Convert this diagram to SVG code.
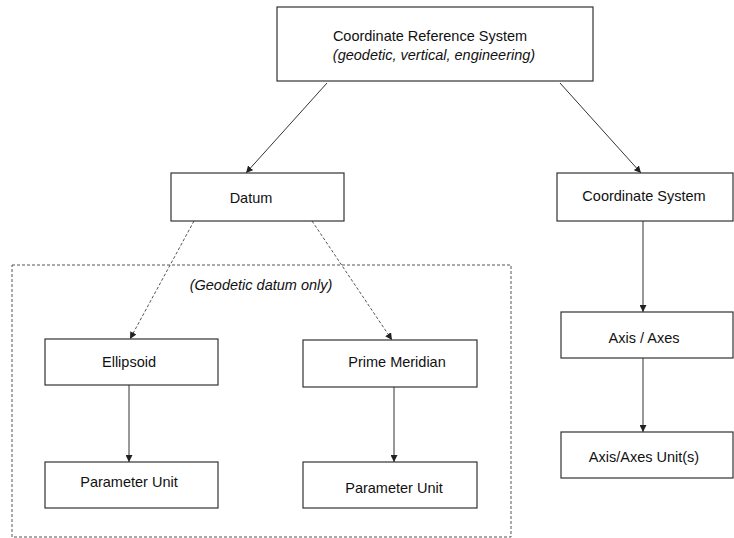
<svg xmlns="http://www.w3.org/2000/svg" width="734" height="538" viewBox="0 0 734 538">
<defs>
<marker id="ah" viewBox="0 0 10 10" refX="10" refY="5" markerWidth="7" markerHeight="7" markerUnits="userSpaceOnUse" orient="auto">
<path d="M0,0 L10,5 L0,10 Z" fill="#222"/>
</marker>
</defs>
<style>
.box{fill:#fff;stroke:#333;stroke-width:1.2}
.t{font-family:"Liberation Sans",Arial,sans-serif;font-size:14.5px;fill:#111;text-anchor:middle}
.i{font-style:italic}
.c{stroke:#333;stroke-width:1;fill:none}
.d{stroke:#555;stroke-width:1;fill:none;stroke-dasharray:3,2}
</style>
<rect width="734" height="538" fill="#fff"/>
<rect id="geodetic-group" x="12" y="265" width="499" height="272" class="d"/>
<text class="t i" x="261" y="290">(Geodetic datum only)</text>
<g id="connectors">
<line class="c" x1="327" y1="83" x2="246" y2="173" marker-end="url(#ah)"/>
<line class="c" x1="560" y1="83" x2="641" y2="173" marker-end="url(#ah)"/>
<line class="d" x1="194" y1="221" x2="130" y2="339" marker-end="url(#ah)"/>
<line class="d" x1="312" y1="221" x2="392" y2="340" marker-end="url(#ah)"/>
<line class="c" x1="129" y1="385" x2="129" y2="462" marker-end="url(#ah)"/>
<line class="c" x1="394" y1="387" x2="394" y2="462" marker-end="url(#ah)"/>
<line class="c" x1="643" y1="221" x2="643" y2="312" marker-end="url(#ah)"/>
<line class="c" x1="643" y1="358" x2="643" y2="432" marker-end="url(#ah)"/>
</g>
<g id="crs">
<rect class="box" x="277" y="7" width="316" height="74"/>
<text class="t" x="430" y="41">Coordinate Reference System</text>
<text class="t i" x="434" y="60">(geodetic, vertical, engineering)</text>
</g>
<g id="datum">
<rect class="box" x="171" y="173" width="173" height="48"/>
<text class="t" x="251" y="203">Datum</text>
</g>
<g id="coordinate-system">
<rect class="box" x="557" y="173" width="176" height="48"/>
<text class="t" x="644" y="201">Coordinate System</text>
</g>
<g id="ellipsoid">
<rect class="box" x="45" y="339" width="173" height="46"/>
<text class="t" x="129" y="367">Ellipsoid</text>
</g>
<g id="prime-meridian">
<rect class="box" x="303" y="340" width="174" height="47"/>
<text class="t" x="397" y="367">Prime Meridian</text>
</g>
<g id="param-unit-1">
<rect class="box" x="45" y="462" width="173" height="46"/>
<text class="t" x="129" y="487">Parameter Unit</text>
</g>
<g id="param-unit-2">
<rect class="box" x="303" y="462" width="174" height="46"/>
<text class="t" x="394" y="493">Parameter Unit</text>
</g>
<g id="axis">
<rect class="box" x="561" y="312" width="172" height="46"/>
<text class="t" x="644" y="343">Axis / Axes</text>
</g>
<g id="axis-unit">
<rect class="box" x="561" y="432" width="172" height="46"/>
<text class="t" x="644" y="462">Axis/Axes Unit(s)</text>
</g>
</svg>
